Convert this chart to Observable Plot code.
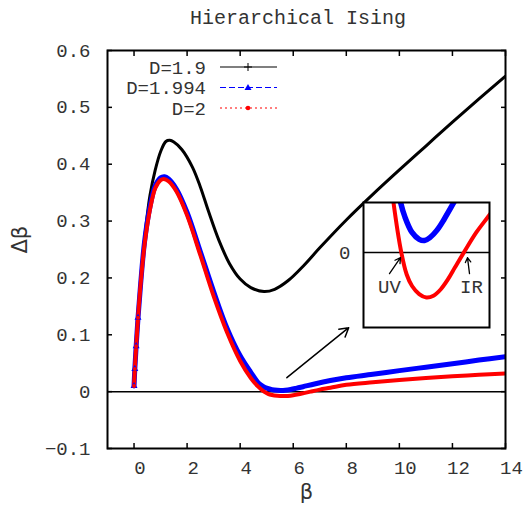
<!DOCTYPE html>
<html><head><meta charset="utf-8">
<script src="https://cdn.jsdelivr.net/npm/d3@7"></script>
<script src="https://cdn.jsdelivr.net/npm/@observablehq/plot@0.6"></script>
<style>
body{margin:0;background:#fff;}
#wrap{position:relative;width:523px;height:518px;overflow:hidden;background:#fff;}
#title{position:absolute;left:298px;top:7px;transform:translateX(-50%);white-space:nowrap;font:20px "Liberation Mono",monospace;color:#333;}
#main{position:absolute;left:0;top:32px;}
#inset{position:absolute;left:330px;top:190px;}
#legend{position:absolute;left:0;top:0;pointer-events:none;}
</style></head><body>
<div id="wrap"><div id="title">Hierarchical Ising</div><div id="main"></div><div id="inset"></div><svg id="legend" width="523" height="518"></svg></div>
<script>
// ---- data ----
const seriesNames = ["D=1.9", "D=1.994", "D=2"];
const betaBlack = [0, 0.03, 0.08, 0.15, 0.25, 0.4, 0.6, 0.8, 1.0, 1.2, 1.35, 1.5, 1.8, 2.2, 2.5, 2.8, 3.2, 3.6, 4.0, 4.4, 4.9, 5.3, 5.8, 6.4, 7.0, 8, 9, 10, 11, 12, 13, 14];
const dBlack    = [0.01, 0.04, 0.08, 0.13, 0.19, 0.27, 0.345, 0.39, 0.422, 0.44, 0.442, 0.439, 0.426, 0.395, 0.36, 0.318, 0.266, 0.225, 0.198, 0.183, 0.176, 0.18, 0.195, 0.222, 0.253, 0.302, 0.347, 0.39, 0.432, 0.474, 0.515, 0.555];
const betaBlue  = [0, 0.03, 0.08, 0.15, 0.25, 0.4, 0.6, 0.8, 1.0, 1.15, 1.3, 1.6, 2.0, 2.5, 3.0, 3.5, 4.0, 4.4, 4.7, 4.88, 5.0, 5.2, 5.4, 5.55, 5.7, 5.9, 6.1, 6.37, 6.8, 7.4, 8, 9, 10, 11, 12, 13, 14];
const dBlue     = [0.01, 0.04, 0.08, 0.13, 0.19, 0.265, 0.325, 0.362, 0.376, 0.378, 0.374, 0.356, 0.315, 0.246, 0.176, 0.112, 0.063, 0.034, 0.0145, 0.0087, 0.0062, 0.0035, 0.0023, 0.0021, 0.0026, 0.0039, 0.0058, 0.0087, 0.0135, 0.0195, 0.0245, 0.0305, 0.037, 0.043, 0.049, 0.0555, 0.0615];
const betaRed   = [0, 0.03, 0.08, 0.15, 0.25, 0.4, 0.6, 0.8, 1.0, 1.12, 1.3, 1.6, 2.0, 2.5, 3.0, 3.5, 4.0, 4.4, 4.68, 4.9, 5.05, 5.2, 5.4, 5.6, 5.8, 6.0, 6.2, 6.4, 6.65, 7.0, 7.4, 8, 9, 10, 11, 12, 13, 14];
const dRed      = [0.01, 0.04, 0.08, 0.13, 0.19, 0.26, 0.32, 0.358, 0.372, 0.374, 0.37, 0.352, 0.31, 0.24, 0.168, 0.105, 0.054, 0.024, 0.0087, 0.0, -0.0038, -0.0058, -0.0072, -0.0078, -0.0075, -0.0064, -0.0047, -0.0026, 0.0, 0.0035, 0.0068, 0.012, 0.0165, 0.0205, 0.024, 0.027, 0.0295, 0.032];
const xTicks = [0, 2, 4, 6, 8, 10, 12, 14];
const yTicks = [-0.1, 0, 0.1, 0.2, 0.3, 0.4, 0.5, 0.6];
const yTickLabels = ["\u22120.1", "0", "0.1", "0.2", "0.3", "0.4", "0.5", "0.6"];
const mainArrow = [{x1: 5.76, y1: 0.0246, x2: 8.09, y2: 0.1125}];
const insetArrows = [{x1: 4.568, y1: -0.00365, x2: 4.876, y2: -0.00087}, {x1: 6.81, y1: -0.00365, x2: 6.753, y2: -0.00087}];
const insetLabels = [{x: 4.568, y: -0.0059, t: "UV"}, {x: 6.865, y: -0.0059, t: "IR"}];

const rows = (bs, ds, name) => bs.map((b, i) => ({beta: b, d: ds[i], series: name}));
const black = rows(betaBlack, dBlack, seriesNames[0]);
const blue = rows(betaBlue, dBlue, seriesNames[1]);
const red = rows(betaRed, dRed, seriesNames[2]);
const colors = ["black", "#0000ff", "#ff0000"];
const mono = '"Liberation Mono", monospace';
const yFmt = d => yTickLabels[yTicks.findIndex(t => Math.abs(t - d) < 1e-9)];

const main = Plot.plot({
  width: 523, height: 486,
  marginTop: 18, marginBottom: 70, marginLeft: 107, marginRight: 18,
  x: {domain: [-1, 14]},
  y: {domain: [-0.1, 0.6]},
  style: {fontFamily: mono, fontSize: "19px", color: "#333", background: "white", overflow: "visible"},
  marks: [
    Plot.ruleY([0], {stroke: "black", strokeWidth: 1.5}),
    Plot.line(black, {x: "beta", y: "d", stroke: colors[0], strokeWidth: 3, curve: "catmull-rom", clip: true}),
    Plot.line(blue, {x: "beta", y: "d", stroke: colors[1], strokeWidth: 5, curve: "catmull-rom", clip: true}),
    Plot.line(red, {x: "beta", y: "d", stroke: colors[2], strokeWidth: 4, curve: "catmull-rom", clip: true}),
    Plot.dot(blue.filter(d => d.beta <= 0.15), {x: "beta", y: "d", symbol: "triangle", r: 2.6, fill: colors[1]}),
    Plot.dot(red.filter(d => d.beta <= 0.15), {x: "beta", y: "d", r: 2, fill: colors[2]}),
    Plot.arrow(mainArrow, {x1: "x1", y1: "y1", x2: "x2", y2: "y2", stroke: "black", strokeWidth: 1.5, headLength: 10}),
    Plot.frame({stroke: "black", strokeWidth: 2}),
    Plot.axisX({anchor: "bottom", ticks: xTicks, tickSize: -5, tickFormat: () => "", stroke: "black", strokeWidth: 1.5, label: null}),
    Plot.axisX({anchor: "top", ticks: xTicks, tickSize: -5, tickFormat: () => "", stroke: "black", strokeWidth: 1.5, label: null}),
    Plot.axisX({anchor: "bottom", ticks: xTicks, tickSize: 0, tickPadding: 12, dx: 6, tickFormat: d => String(d), fill: "#333", label: null}),
    Plot.axisY({anchor: "left", ticks: yTicks, tickSize: -5, tickFormat: () => "", stroke: "black", strokeWidth: 1.5, label: null}),
    Plot.axisY({anchor: "right", ticks: yTicks, tickSize: -5, tickFormat: () => "", stroke: "black", strokeWidth: 1.5, label: null}),
    Plot.axisY({anchor: "left", ticks: yTicks, tickSize: 0, tickPadding: 17, tickFormat: yFmt, fill: "#333", label: null}),
    Plot.text(["\u03b2"], {text: d => d, frameAnchor: "bottom", dy: 50, fontFamily: "DejaVu Sans", fontSize: 21, fill: "#333"}),
    Plot.text(["\u0394\u03b2"], {text: d => d, frameAnchor: "left", dx: -87, dy: 4, rotate: -90, fontFamily: "DejaVu Sans", fontSize: 21, fill: "#333"})
  ]
});
document.getElementById("main").appendChild(main);

const inset = Plot.plot({
  width: 170, height: 145,
  marginTop: 12, marginBottom: 8, marginLeft: 33, marginRight: 11,
  x: {domain: [3.84, 7.37], axis: null},
  y: {domain: [-0.013, 0.0087]},
  style: {fontFamily: mono, fontSize: "19px", color: "#333", background: "transparent", overflow: "visible"},
  marks: [
    Plot.frame({fill: "white", stroke: null}),
    Plot.ruleY([0], {stroke: "black", strokeWidth: 1.5}),
    Plot.line(blue, {x: "beta", y: "d", stroke: colors[1], strokeWidth: 5.5, curve: "catmull-rom", clip: true}),
    Plot.line(red, {x: "beta", y: "d", stroke: colors[2], strokeWidth: 4, curve: "catmull-rom", clip: true}),
    Plot.arrow(insetArrows, {x1: "x1", y1: "y1", x2: "x2", y2: "y2", stroke: "black", strokeWidth: 1.3, headLength: 7}),
    Plot.text(insetLabels, {x: "x", y: "y", text: "t", fill: "#333", fontSize: 19}),
    Plot.frame({stroke: "black", strokeWidth: 2}),
    Plot.axisY({anchor: "left", ticks: [0], tickSize: 0, tickPadding: 13, tickFormat: () => "0", fill: "#333", label: null})
  ]
});
document.getElementById("inset").appendChild(inset);

// legend
const lg = d3.select("#legend");
const ly = [67, 87.5, 108];
const dashes = [null, "6,3", "2,3"];
seriesNames.forEach((name, i) => {
  lg.append("text").attr("x", 206).attr("y", ly[i] + 6.5).attr("text-anchor", "end")
    .attr("font-family", mono).attr("font-size", 19).attr("fill", "#333").text(name);
  lg.append("line").attr("x1", 220).attr("x2", 277).attr("y1", ly[i]).attr("y2", ly[i])
    .attr("stroke", colors[i]).attr("stroke-width", 1.2).attr("stroke-dasharray", dashes[i]);
});
lg.append("path").attr("d", `M244,${ly[0]}h8M248,${ly[0]-4}v8`).attr("stroke", "black").attr("stroke-width", 1);
lg.append("path").attr("d", `M248,${ly[1]-3.5}L251.5,${ly[1]+2.5}L244.5,${ly[1]+2.5}Z`).attr("fill", colors[1]);
lg.append("circle").attr("cx", 248).attr("cy", ly[2]).attr("r", 2.3).attr("fill", colors[2]);
</script>
</body></html>
